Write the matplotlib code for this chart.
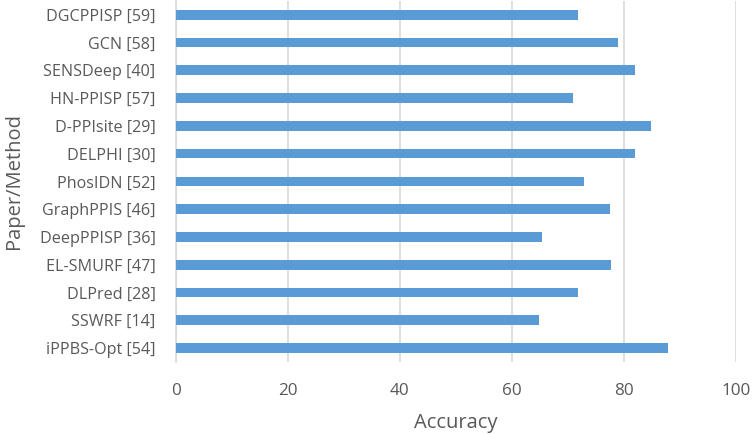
import matplotlib
matplotlib.use("Agg")
import matplotlib.pyplot as plt

methods = ["DGCPPISP [59]", "GCN [58]", "SENSDeep [40]", "HN-PPISP [57]", "D-PPIsite [29]",
           "DELPHI [30]", "PhosIDN [52]", "GraphPPIS [46]", "DeepPPISP [36]", "EL-SMURF [47]",
           "DLPred [28]", "SSWRF [14]", "iPPBS-Opt [54]"]
accuracy = [71.8, 78.9, 82.0, 71.0, 84.8, 82.0, 72.8, 77.5, 65.4, 77.7, 71.9, 64.9, 87.9]
xticks = [0, 20, 40, 60, 80, 100]

plt.rcParams['font.family'] = ['Open Sans', 'DejaVu Sans']
txt = '#595959'

fig = plt.figure(figsize=(7.52, 4.34), dpi=100)
ax = fig.add_axes([0.2334, 0.166, 0.7453, 0.832])
y = list(range(len(methods)))[::-1]
ax.barh(y, accuracy, height=0.35, color='#5B9BD5', zorder=3)
ax.set_xlim(0, 100)
ax.set_ylim(-0.5, len(methods) - 0.5)
ax.set_xticks(xticks)
ax.set_xticklabels([str(t) for t in xticks])
ax.set_yticks(y)
ax.set_yticklabels(methods)
ax.tick_params(axis='both', length=0, colors=txt)
ax.tick_params(axis='x', pad=15, labelsize=12.3)
ax.tick_params(axis='y', pad=14.5, labelsize=11.6)
ax.grid(axis='x', color='#D9D9D9', linewidth=1.2, zorder=0)
for s in ['top', 'right', 'bottom']:
    ax.spines[s].set_visible(False)
ax.spines['left'].set_color('#D9D9D9')
ax.spines['left'].set_linewidth(1.2)
ax.set_xlabel('Accuracy', color=txt, fontsize=14.5, labelpad=10)
ax.set_ylabel('Paper/Method', color=txt, fontsize=14.5, labelpad=11)
fig.savefig('out.png', dpi=100)
